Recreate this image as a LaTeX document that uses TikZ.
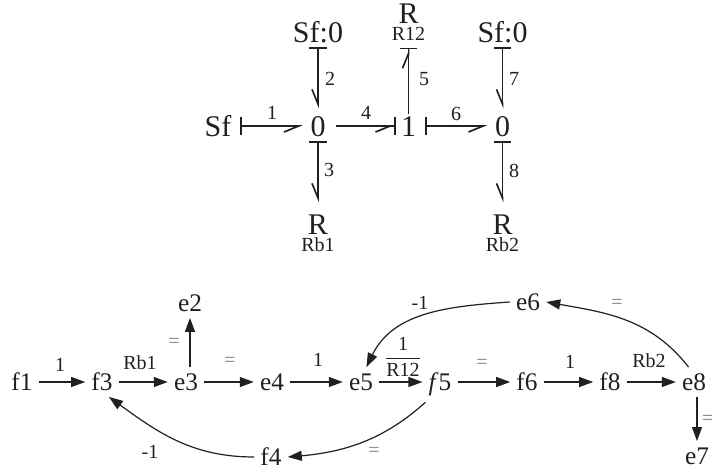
\documentclass[tikz,border=0pt]{standalone}
\usepackage{amsmath}
\usepackage{fontspec}
\setmainfont{Liberation Serif}
\usepackage{tikz}
\usetikzlibrary{arrows.meta}
\definecolor{inkdark}{RGB}{35,31,32}
\definecolor{eqgray}{RGB}{128,128,128}
\tikzset{
    element/.style={font=\fontsize{22.5}{24}\selectfont, text=inkdark, inner sep=3.5pt, text height=15.2pt, text depth=0pt},
    resistor/.style={element, inner ysep=0.5pt},
    subname/.style={font=\fontsize{15}{16}\selectfont, text=inkdark, inner sep=0pt, text height=10.2pt, text depth=0pt},
    signal/.style={font=\fontsize{19}{20}\selectfont, text=inkdark, inner sep=4.5pt, text height=13pt, text depth=0pt},
    bondnum/.style={font=\fontsize{15}{16}\selectfont, text=inkdark, inner sep=0pt},
    eqsign/.style={font=\fontsize{15}{16}\selectfont, text=eqgray, inner sep=0pt},
    bondbase/.style={draw=inkdark, line width=1.25pt},
    causal/.style={bondbase, {Bar[width=13pt,line width=1.25pt]}-{Straight Barb[right,length=11pt,width=9pt,line width=1.25pt]}},
    causalup/.style={bondbase, -{Straight Barb[left,length=11pt,width=9pt,line width=1.25pt]Bar[width=13pt,line width=1.25pt,sep=0pt]}},
    causalin/.style={bondbase, -{Straight Barb[right,length=11pt,width=9pt,line width=1.25pt]Bar[width=13pt,line width=1.25pt,sep=0pt]}},
    flow/.style={draw=inkdark, line width=0.9pt, -{Triangle[length=10.5pt,width=7.5pt]}}
}
\begin{document}
\begin{tikzpicture}[x=0.75pt, y=0.75pt]
    \useasboundingbox (0,0) rectangle (714,472);

    % Bond graph elements
    \node[element] (sf) at (218,346) {Sf};
    \node[element] (zeroa) at (318,346) {0};
    \node[element] (one) at (408.5,346) {1};
    \node[element] (zerob) at (502.5,346) {0};
    \node[element] (sfa) at (318,440) {Sf:0};
    \node[element] (sfb) at (502.5,440) {Sf:0};
    \node[resistor] (rtop) at (408.5,459) {R};
    \node[subname] (rtopname) at (408.5,438) {R12};
    \node[resistor] (rb) at (318,248) {R};
    \node[subname] (rbname) at (318,227) {Rb1};
    \node[resistor] (rc) at (502.5,248) {R};
    \node[subname] (rcname) at (502.5,227) {Rb2};

    % Bonds
    \draw[causal, shorten <=3pt, shorten >=2pt] (sf.east) -- (zeroa.west);
    \draw[causal, shorten >=2pt] (sfa.south) -- (zeroa.north);
    \draw[causal, shorten >=8pt] (zeroa.south) -- (rb.north);
    \draw[causalin, shorten <=4.5pt] (zeroa.east) -- (one.west);
    \draw[causalup, shorten <=-2pt, shorten >=5pt] (one.north) -- (rtopname.south);
    \draw[causal, shorten <=3pt, shorten >=2pt] (one.east) -- (zerob.west);
    \draw[causal, shorten >=2pt] (sfb.south) -- (zerob.north);
    \draw[causal, shorten >=8pt] (zerob.south) -- (rc.north);

    % Bond numbers
    \node[bondnum] (na) at (272,359) {1};
    \node[bondnum] (nb) at (330,393) {2};
    \node[bondnum] (nc) at (329,302) {3};
    \node[bondnum] (nd) at (366,359) {4};
    \node[bondnum] (ne) at (424,393) {5};
    \node[bondnum] (nf) at (456,358) {6};
    \node[bondnum] (ng) at (514,393) {7};
    \node[bondnum] (nh) at (514,301) {8};

    % Signal flow graph
    \node[signal] (fa) at (22,90) {f1};
    \node[signal] (fc) at (102,90) {f3};
    \node[signal] (ec) at (186,90) {e3};
    \node[signal] (ed) at (272,90) {e4};
    \node[signal] (ee) at (361,90) {e5};
    \node[signal] (fe) at (440,90) {\textit{f}5};
    \node[signal] (ff) at (527,90) {f6};
    \node[signal] (fh) at (610,90) {f8};
    \node[signal] (eh) at (694,90) {e8};
    \node[signal] (eg) at (697,16) {e7};
    \node[signal] (eb) at (190,169) {e2};
    \node[signal] (ef) at (528,170) {e6};
    \node[signal] (fd) at (271,15) {f4};

    % Straight branches
    \draw[flow] (fa.east) -- (fc.west);
    \draw[flow] (fc.east) -- (ec.west);
    \draw[flow] (ec.east) -- (ed.west);
    \draw[flow] (ed.east) -- (ee.west);
    \draw[flow] (ee.east) -- (fe.west);
    \draw[flow] (fe.east) -- (ff.west);
    \draw[flow] (ff.east) -- (fh.west);
    \draw[flow] (fh.east) -- (eh.west);
    \draw[flow] (eh.south -| eg.north) -- (eg.north);
    \draw[flow] (ec.north -| eb.south) -- (eb.south);

    % Curved branches
    \draw[flow, shorten <=6pt] (fe.240) to[out=222,in=5] (fd.east);
    \draw[flow] (fd.west) to[out=180,in=-36] (fc.-65);
    \draw[flow] (eh.110) to[out=128,in=-10] (ef.east);
    \draw[flow] (ef.west) to[out=184,in=64] (ee.70);

    % Gains
    \node[bondnum] (ga) at (60,107) {1};
    \node[bondnum] (gb) at (140,109) {Rb1};
    \node[bondnum] (gc) at (318,112) {1};
    \node[bondnum] (gd) at (150,20) {-1};
    \node[bondnum] (ge) at (420,169) {-1};
    \node[bondnum] (gf) at (403,115) {$\displaystyle\frac{\text{1}}{\text{R12}}$};
    \node[bondnum] (gg) at (570,110) {1};
    \node[bondnum] (gh) at (649,111) {Rb2};

    % Equal signs
    \node[eqsign] (qa) at (174,129) {=};
    \node[eqsign] (qb) at (230,110) {=};
    \node[eqsign] (qc) at (617,168) {=};
    \node[eqsign] (qd) at (374,20) {=};
    \node[eqsign] (qe) at (707.5,52) {=};
    \node[eqsign] (qf) at (482,108) {=};
\end{tikzpicture}
\end{document}
